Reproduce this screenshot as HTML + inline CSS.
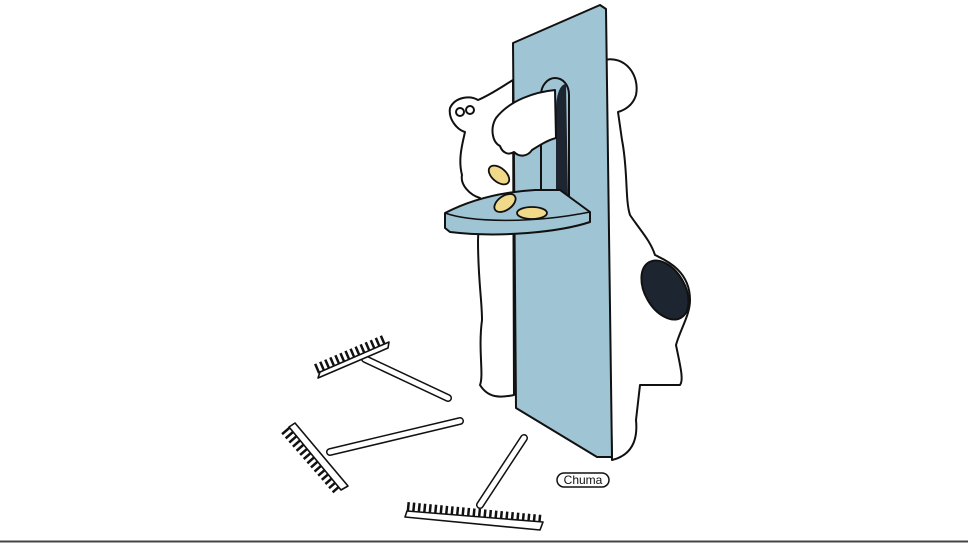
<!DOCTYPE html>
<html><head><style>
html,body{margin:0;padding:0;background:#fff;}
svg{display:block;}
</style></head><body>
<svg width="968" height="544" viewBox="0 0 968 544" xmlns="http://www.w3.org/2000/svg">
<rect width="968" height="544" fill="#fff"/>
<line x1="0" y1="541.5" x2="968" y2="541.5" stroke="#444" stroke-width="2"/>
<g fill="#fff" stroke="#111" stroke-width="2" stroke-linejoin="round" stroke-linecap="round">
<path d="M604,60 C625,55 640,75 636,95 C633,105 625,110 618,112 L622,140 C628,170 625,200 630,215 C640,230 650,240 655,255 C665,260 690,270 690,300 C690,315 680,330 676,345 C680,365 684,380 680,385 L640,385 L636,420 C638,440 632,455 612,460 Z"/>
<path d="M513,80 C500,88 490,95 478,100 C470,95 455,97 450,108 C448,120 458,130 465,132 C462,145 458,160 462,175 C460,185 470,195 480,198 L478,240 C478,280 482,300 482,320 C478,350 484,375 480,385 C488,398 500,398 514,395 Z"/>
<circle cx="460" cy="112" r="4"/><circle cx="470" cy="110" r="4"/>
</g>
<path d="M513,43 L600,5 L606,9 L612,457 L597,457 L516,408 Z" fill="#9fc4d3" stroke="#111" stroke-width="2" stroke-linejoin="round"/>
<path d="M541,198 L541,95 C541,85 548,78 555,78 C563,78 569,85 569,95 L569,198 Z" fill="#9fc4d3" stroke="#111" stroke-width="2"/>
<path d="M556,110 C556,95 560,84 566,84 L568,198 L556,198 Z" fill="#1c2530"/>
<path d="M555,90 C535,92 510,100 496,118 C490,128 492,142 500,146 C502,152 508,156 514,152 C520,158 528,156 532,150 C540,145 548,140 556,138 Z" fill="#fff" stroke="#111" stroke-width="2" stroke-linejoin="round"/>
<path d="M445,213 C470,200 500,192 535,190 L560,190 L590,212 L590,222 C560,232 500,238 450,232 L445,228 Z" fill="#9fc4d3" stroke="#111" stroke-width="2" stroke-linejoin="round"/>
<path d="M445,213 C470,222 530,224 590,212" fill="none" stroke="#111" stroke-width="1.5"/>
<g fill="#f1d98a" stroke="#111" stroke-width="1.8">
<ellipse cx="499" cy="175" rx="12" ry="7" transform="rotate(40 499 175)"/>
<ellipse cx="505" cy="203" rx="12" ry="7" transform="rotate(-35 505 203)"/>
<ellipse cx="532" cy="213" rx="15" ry="6"/>
</g>
<ellipse cx="665" cy="290" rx="20" ry="32" transform="rotate(-30 665 290)" fill="#1c2530" stroke="#111" stroke-width="2"/>
<g fill="none" stroke-linecap="round" stroke-linejoin="round">
<g stroke="#111" stroke-width="8">
<line x1="365" y1="359" x2="448" y2="398"/>
<line x1="330" y1="452" x2="460" y2="421"/>
<line x1="480" y1="505" x2="524" y2="438"/>
</g>
<g stroke="#fff" stroke-width="5">
<line x1="365" y1="359" x2="448" y2="398"/>
<line x1="330" y1="452" x2="460" y2="421"/>
<line x1="480" y1="505" x2="524" y2="438"/>
</g>
</g>
<g stroke="#111" stroke-width="10" stroke-dasharray="2.5 3" fill="none">
<line x1="316" y1="369" x2="386" y2="339"/>
<line x1="285" y1="430" x2="339" y2="492"/>
<line x1="407" y1="507" x2="542" y2="520"/>
</g>
<g stroke="#111" stroke-width="1.6" fill="#fff" stroke-linejoin="round">
<path d="M318,378 L388,348 L389,342 L320,372 Z"/>
<path d="M289,427 L341,490 L348,486 L295,423 Z"/>
<path d="M405,517 L540,530 L543,522 L407,511 Z"/>
</g>
<rect x="557" y="473" width="52" height="14" rx="7" fill="#fff" stroke="#111" stroke-width="1.5"/>
<text x="583" y="484" font-family="Liberation Sans, sans-serif" font-size="12" text-anchor="middle" fill="#111">Chuma</text>
</svg>
</body></html>
